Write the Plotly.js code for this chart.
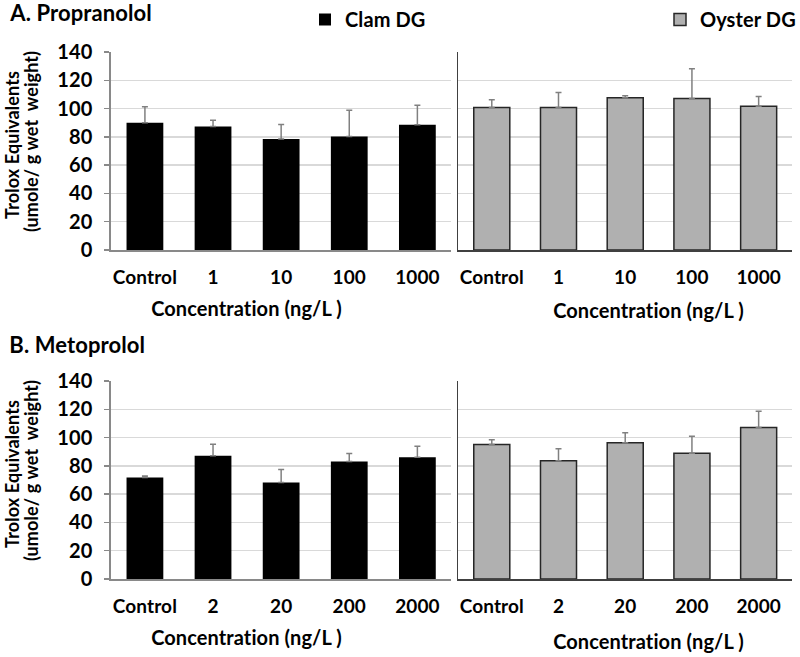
<!DOCTYPE html>
<html>
<head>
<meta charset="utf-8">
<script src="https://cdn.plot.ly/plotly-3.0.1.min.js"></script>
<style>
  html, body { margin: 0; padding: 0; background: #fff; }
  #chart { width: 800px; height: 657px; }
  #chart text {
    font-variant-ligatures: none;
    font-feature-settings: "liga" 0, "clig" 0, "dlig" 0, "calt" 0;
    letter-spacing: 0.1px;
  }
</style>
</head>
<body>
<div id="chart"></div>
<script>
// Trolox equivalents (mean and upper SD)
const propDoses = ['Control', '1', '10', '100', '1000'];
const metoDoses = ['Control', '2', '20', '200', '2000'];

const propClam = [89.9, 87.3, 78.4, 80.2, 88.5];
const propClamSd = [11.3, 4.5, 10.3, 18.6, 13.9];
const propOyster = [100.8, 100.8, 107.6, 107.2, 101.7];
const propOysterSd = [5.4, 10.6, 1.4, 21.0, 6.9];

const metoClam = [71.8, 87.1, 68.2, 83.1, 86.1];
const metoClamSd = [1.1, 8.2, 9.2, 5.6, 7.8];
const metoOyster = [95.1, 83.6, 96.3, 89.0, 107.1];
const metoOysterSd = [3.3, 8.5, 7.1, 12.0, 11.5];

const FONT = 'Lato, Liberation Sans, Arial, sans-serif';
const W = 800, H = 657;
const px = v => v / W;
const py = v => 1 - v / H;

function errUp(sd) {
    return {
        type: 'data', array: sd, arrayminus: sd.map(() => 0), symmetric: false,
        color: '#808080', thickness: 1.5, width: 3
    };
}

function clamTrace(x, y, sd, xa, ya, show) {
    return {
        type: 'bar', name: 'Clam DG', x: x, y: y, xaxis: xa, yaxis: ya,
        marker: { color: '#000000', line: { width: 0 } },
        error_y: errUp(sd), showlegend: show, legend: 'legend', hoverinfo: 'skip'
    };
}

function oysterTrace(x, y, sd, xa, ya, show) {
    return {
        type: 'bar', name: 'Oyster DG', x: x, y: y, xaxis: xa, yaxis: ya,
        marker: { color: '#b0b0b0', line: { color: '#262626', width: 1.5 } },
        error_y: errUp(sd), showlegend: show, legend: 'legend2', hoverinfo: 'skip'
    };
}

const traces = [
    clamTrace(propDoses, propClam, propClamSd, 'x', 'y', true),
    oysterTrace(propDoses, propOyster, propOysterSd, 'x2', 'y2', true),
    clamTrace(metoDoses, metoClam, metoClamSd, 'x3', 'y3', false),
    oysterTrace(metoDoses, metoOyster, metoOysterSd, 'x4', 'y4', false)
];

const tickFont = { family: FONT, size: 19, color: '#000', weight: 'bold' };

function xAxis(domain, anchor, lineColor) {
    return {
        domain: domain, anchor: anchor, type: 'category',
        showline: true, linecolor: lineColor, linewidth: 1.5,
        ticks: 'outside', ticklen: 10, tickcolor: 'rgba(0,0,0,0)',
        tickfont: tickFont, showgrid: false, zeroline: false, fixedrange: true
    };
}

function yAxisLeft(domain, anchor) {
    return {
        domain: domain, anchor: anchor, range: [0, 140], dtick: 20,
        showline: true, linecolor: '#898989', linewidth: 1.5,
        ticks: 'outside', ticklen: 5, tickcolor: '#898989', tickwidth: 1.5,
        tickfont: { family: FONT, size: 20, color: '#000', weight: 'bold' },
        ticklabelstandoff: 8,
        showgrid: true, gridcolor: '#d9d9d9', gridwidth: 1.5, zeroline: false, fixedrange: true
    };
}

function yAxisRight(domain, anchor) {
    return {
        domain: domain, anchor: anchor, range: [0, 140], dtick: 20,
        showline: true, linecolor: '#404040', linewidth: 1.5,
        ticks: '', showticklabels: false,
        showgrid: true, gridcolor: '#d9d9d9', gridwidth: 1.5, zeroline: false, fixedrange: true
    };
}

const leftX = [px(111), px(452)];
const rightX = [px(459), px(793)];
const topY = [py(250), py(52)];
const botY = [py(579), py(381)];

function note(text, x, y, size, opts) {
    return Object.assign({
        text: text, x: x, y: y, xref: 'paper', yref: 'paper',
        xanchor: 'center', yanchor: 'middle', showarrow: false,
        font: { family: FONT, size: size, color: '#000', weight: 'bold' }
    }, opts || {});
}

const yTitle1 = 'Trolox Equivalents';
const yTitle2 = '(umole/ g wet  weight)';
const xTitle = 'Concentration (ng/L )';

const annotations = [
    note('A. Propranolol', px(8), py(12), 22, { xanchor: 'left' }),
    note('B. Metoprolol', px(8), py(344), 22, { xanchor: 'left' }),
    note(xTitle, px(247), py(308), 20),
    note(xTitle, px(649), py(310), 20),
    note(xTitle, px(247), py(637), 20),
    note(xTitle, px(649), py(641), 20),
    note(yTitle1, px(12), py(145), 18, { textangle: -90 }),
    note(yTitle2, px(31), py(141), 18, { textangle: -90 }),
    note(yTitle1, px(12), py(474), 18, { textangle: -90 }),
    note(yTitle2, px(31), py(470), 18, { textangle: -90 })
];

const legendFont = { family: FONT, size: 20, color: '#000', weight: 'bold' };

const layout = {
    width: W, height: H,
    margin: { l: 0, r: 0, t: 0, b: 0 },
    paper_bgcolor: '#fff', plot_bgcolor: 'rgba(0,0,0,0)',
    bargap: 0.46,
    xaxis: xAxis(leftX, 'y', '#898989'),
    yaxis: yAxisLeft(topY, 'x'),
    xaxis2: xAxis(rightX, 'y2', '#404040'),
    yaxis2: yAxisRight(topY, 'x2'),
    xaxis3: xAxis(leftX, 'y3', '#898989'),
    yaxis3: yAxisLeft(botY, 'x3'),
    xaxis4: xAxis(rightX, 'y4', '#404040'),
    yaxis4: yAxisRight(botY, 'x4'),
    legend: {
        x: px(305), y: 1, xanchor: 'left', yanchor: 'top',
        orientation: 'h', font: legendFont, bgcolor: 'rgba(0,0,0,0)', itemwidth: 30
    },
    legend2: {
        x: px(661), y: 1, xanchor: 'left', yanchor: 'top',
        orientation: 'h', font: legendFont, bgcolor: 'rgba(0,0,0,0)', itemwidth: 30
    },
    annotations: annotations
};

Plotly.newPlot('chart', traces, layout, { displayModeBar: false, staticPlot: true });
</script>
</body>
</html>
